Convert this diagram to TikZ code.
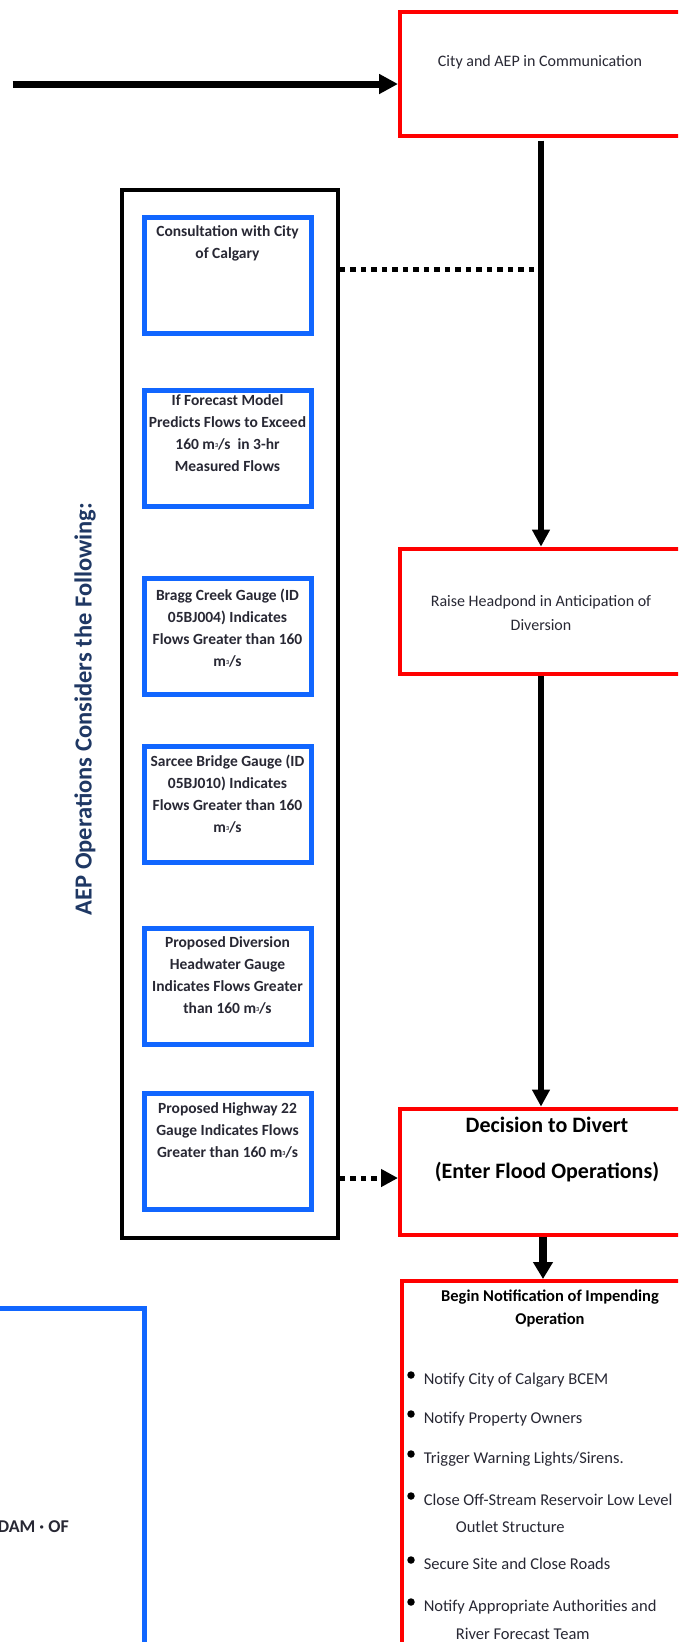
\documentclass[tikz,border=0pt]{standalone}
\usepackage{fontspec}
\setmainfont{Carlito}
\usetikzlibrary{arrows.meta}
\definecolor{redLine}{RGB}{255,0,0}
\definecolor{blueLine}{RGB}{17,102,255}
\definecolor{inkGray}{RGB}{40,40,52}
\definecolor{navyTitle}{RGB}{31,56,100}
\newcommand{\cms}{m\raisebox{2pt}{\fontsize{6}{6}\selectfont 3}/s}

\begin{document}
\begin{tikzpicture}[x = 1pt, y = -1pt]
\tikzstyle{redStyle} = [shape = rectangle, draw = redLine, line width = 4pt, minimum width = 282pt, inner sep = 0pt]
\tikzstyle{blueStyle} = [shape = rectangle, draw = blueLine, line width = 5pt, minimum width = 167pt, minimum height = 116pt, inner sep = 0pt]
\tikzstyle{groupStyle} = [shape = rectangle, draw = black, line width = 3.5pt, minimum width = 216pt, minimum height = 1048pt, inner sep = 0pt]
\tikzstyle{plainText} = [font = \fontsize{16}{24}\selectfont, text = inkGray, align = center, inner sep = 0pt]
\tikzstyle{gaugeText} = [font = \bfseries\fontsize{15.5}{22}\selectfont, text = inkGray, align = center, inner sep = 0pt]
\tikzstyle{itemText} = [font = \fontsize{16.5}{23}\selectfont, text = inkGray, anchor = base west, inner sep = 0pt]
\tikzstyle{bulletStyle} = [shape = circle, fill = black, minimum size = 7.5pt, inner sep = 0pt]
\tikzstyle{flowStyle} = [draw = black, line width = 6pt, -{Triangle[length = 17pt, width = 17pt]}]
\tikzstyle{dotStyle} = [draw = black, line width = 5pt, dash pattern = on 5.5pt off 5pt]
\useasboundingbox (0,0) rectangle (678,1642);
\clip (0,0) rectangle (678,1642);
\fill[white] (0,0) rectangle (678,1642);
\node[redStyle, minimum height = 123.5pt] (comm) at (541,73.8) {};
\node[plainText] (commText) at (540,62) {City and AEP in Communication};
\node[redStyle, minimum height = 125.3pt] (raise) at (541,611.3) {};
\node[plainText] (raiseText) at (541,613) {Raise Headpond in Anticipation of\\Diversion};
\node[redStyle, minimum height = 126pt] (decide) at (541,1171.6) {};
\node[font = \bfseries\fontsize{22}{46}\selectfont, align = center, inner sep = 0pt] (decideText) at (547,1149) {Decision to Divert\\(Enter Flood Operations)};
\node[redStyle, minimum height = 419pt] (notify) at (543,1490.5) {};
\node[font = \bfseries\fontsize{16.5}{23}\selectfont, align = center, inner sep = 0pt] (notifyText) at (550,1308.5) {Begin Notification of Impending\\Operation};
\node[groupStyle] (group) at (230,714) {};
\node[rotate = 90, font = \bfseries\fontsize{24.5}{28}\selectfont, text = navyTitle, inner sep = 0pt] (title) at (85,709) {AEP Operations Considers the Following:};
\node[blueStyle] (b1) at (227.5,275) {};
\node[blueStyle] (b2) at (227.5,448.5) {};
\node[blueStyle] (b3) at (227.5,636) {};
\node[blueStyle] (b4) at (227.5,804.5) {};
\node[blueStyle] (b5) at (227.5,986) {};
\node[blueStyle] (b6) at (227.5,1151.5) {};
\node[gaugeText] (t1) at (227.5,243.5) {Consultation with City\\of Calgary};
\node[gaugeText] (t2) at (227.5,433) {If Forecast Model\\Predicts Flows to Exceed\\160 \cms\ \ in 3-hr\\Measured Flows};
\node[gaugeText] (t3) at (227.5,628) {Bragg Creek Gauge (ID\\05BJ004) Indicates\\Flows Greater than 160\\\cms};
\node[gaugeText] (t4) at (227.5,794) {Sarcee Bridge Gauge (ID\\05BJ010) Indicates\\Flows Greater than 160\\\cms};
\node[gaugeText] (t5) at (227.5,975) {Proposed Diversion\\Headwater Gauge\\Indicates Flows Greater\\than 160 \cms};
\node[gaugeText] (t6) at (227.5,1130) {Proposed Highway 22\\Gauge Indicates Flows\\Greater than 160 \cms};
\node[bulletStyle] (d1) at (411,1375) {};
\node[bulletStyle] (d2) at (411,1414) {};
\node[bulletStyle] (d3) at (411,1454) {};
\node[bulletStyle] (d4) at (411,1496) {};
\node[bulletStyle] (d5) at (411,1560) {};
\node[bulletStyle] (d6) at (411,1602) {};
\node[itemText] (i1) at (423.6,1384) {Notify City of Calgary BCEM};
\node[itemText] (i2) at (423.6,1423) {Notify Property Owners};
\node[itemText] (i3) at (423.6,1463) {Trigger Warning Lights/Sirens.};
\node[itemText] (i4) at (423.6,1505) {Close Off-Stream Reservoir Low Level};
\node[itemText] (i4b) at (455.7,1532) {Outlet Structure};
\node[itemText] (i5) at (423.6,1569) {Secure Site and Close Roads};
\node[itemText] (i6) at (423.6,1611) {Notify Appropriate Authorities and};
\node[itemText] (i6b) at (455.7,1639) {River Forecast Team};
\node[blueStyle, minimum width = 344pt, minimum height = 492pt] (damBox) at (-28,1554) {};
\node[font = \bfseries\fontsize{18}{20}\selectfont, text = inkGray, anchor = base east, inner sep = 0pt] (damText) at (69,1532) {DAM · OF};
\coordinate (feed) at (12.6,84);
\draw[flowStyle, line width = 7pt, -{Triangle[length = 19pt, width = 19pt]}] (feed) -- (feed -| comm.west);
\draw[flowStyle, shorten <= 3pt] (comm.south) -- (raise.north);
\coordinate (tap) at (541,269);
\draw[dotStyle] (group.east |- tap) -- (tap);
\draw[flowStyle] (raise.south) -- (decide.north);
\coordinate (cue) at (0,1178);
\draw[dotStyle, -{Triangle[length = 17pt, width = 17pt]}] (group.east |- cue) -- (decide.west |- cue);
\draw[flowStyle, line width = 8.5pt, -{Triangle[length = 17pt, width = 19pt]}] (notify.north |- decide.south) -- (notify.north);
\end{tikzpicture}
\end{document}
